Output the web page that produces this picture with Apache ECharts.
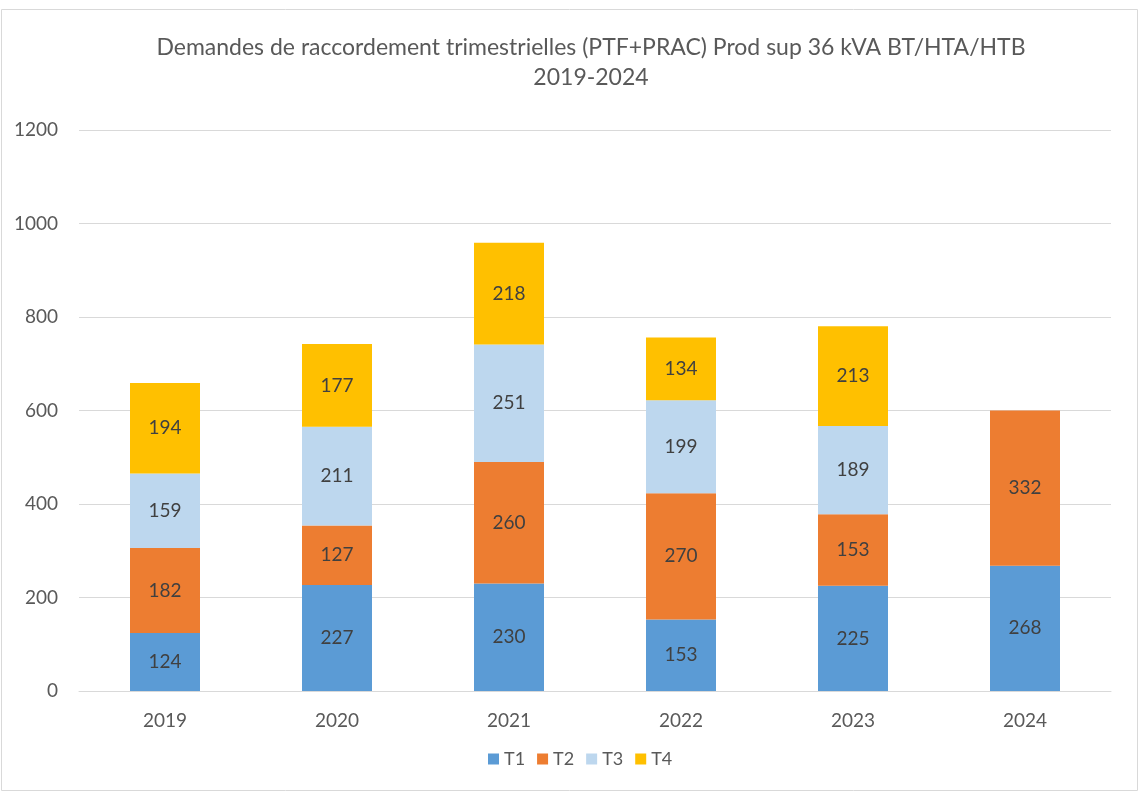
<!DOCTYPE html>
<html><head><meta charset="utf-8">
<script src="https://cdn.jsdelivr.net/npm/echarts@6/dist/echarts.min.js"></script>
<style>html,body{margin:0;padding:0;background:#fff}#c{width:1140px;height:793px}</style>
</head><body><div id="c"></div>
<script>
const categories = ['2019','2020','2021','2022','2023','2024'];
const t1 = [124, 227, 230, 153, 225, 268];
const t2 = [182, 127, 260, 270, 153, 332];
const t3 = [159, 211, 251, 199, 189, null];
const t4 = [194, 177, 218, 134, 213, null];
const seriesNames = ['T1','T2','T3','T4'];
const colors = ['#5b9bd5','#ed7d31','#bdd7ee','#ffc000'];
const yTicks = [0, 200, 400, 600, 800, 1000, 1200];

const chart = echarts.init(document.getElementById('c'));
const font = 'Lato, Open Sans, sans-serif';
const mk = (name, data, i) => ({
  name, type: 'bar', stack: 'total', data, barWidth: 70,
  itemStyle: { color: colors[i] },
  label: { show: true, position: 'inside', color: '#404040', fontSize: 19, fontFamily: font,
    formatter: p => (p.value == null ? '' : p.value) }
});
chart.setOption({
  animation: false,
  graphic: [{ type: 'rect', shape: { x: 1.5, y: 9.5, width: 1136, height: 781 },
    style: { fill: 'none', stroke: '#d9d9d9', lineWidth: 1 }, silent: true }],
  title: {
    text: 'Demandes de raccordement trimestrielles (PTF+PRAC) Prod sup 36 kVA BT/HTA/HTB\n2019-2024',
    left: 586, textAlign: 'center', top: 28,
    textStyle: { fontFamily: font, fontSize: 23, fontWeight: 'normal', color: '#595959', lineHeight: 30 }
  },
  legend: {
    data: seriesNames, bottom: 20, left: 483, itemWidth: 11, itemHeight: 11, itemGap: 12,
    icon: 'rect', textStyle: { fontFamily: font, fontSize: 18, color: '#595959' }
  },
  grid: { left: 79, right: 29, top: 130, bottom: 102 },
  xAxis: {
    type: 'category', data: categories,
    axisLine: { lineStyle: { color: '#d9d9d9' } }, axisTick: { show: false },
    axisLabel: { fontFamily: font, fontSize: 19, color: '#595959', margin: 20 }
  },
  yAxis: {
    type: 'value', min: 0, max: 1200, interval: 200,
    axisLine: { show: false }, axisTick: { show: false },
    axisLabel: { fontFamily: font, fontSize: 19, color: '#595959', margin: 21,
      formatter: v => yTicks.includes(v) ? String(v) : '' },
    splitLine: { lineStyle: { color: '#d9d9d9' } }
  },
  series: [mk('T1', t1, 0), mk('T2', t2, 1), mk('T3', t3, 2), mk('T4', t4, 3)]
});
</script></body></html>
